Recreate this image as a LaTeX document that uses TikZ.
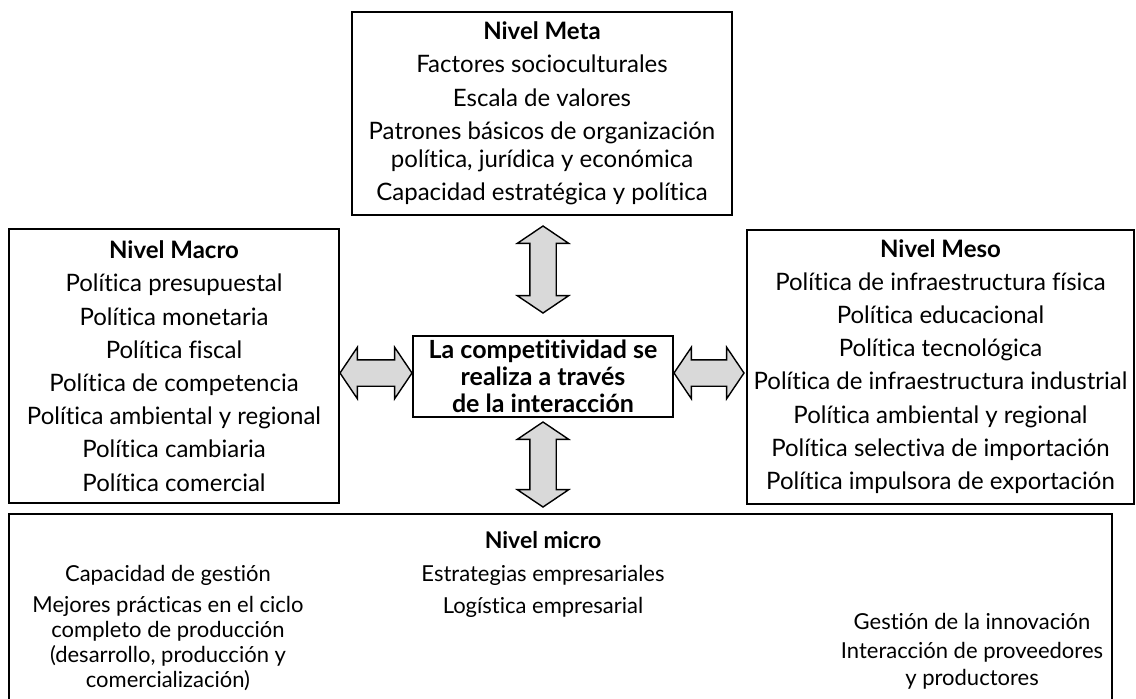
\documentclass[tikz,border=0pt]{standalone}
\usepackage{fontspec}
\setmainfont{Lato}[Ligatures=NoCommon]
\usetikzlibrary{shapes.arrows}

\tikzset{
  nivelbox/.style={draw, line width=1pt, align=center, inner sep=0pt},
  textos/.style={align=center, inner sep=0pt},
  flecha/.style={double arrow, draw, fill=gray!30, line width=0.7pt, inner sep=6.25pt,
    double arrow tip angle=112, double arrow head extend=6.25pt},
}

\begin{document}
\begin{tikzpicture}[x=0.5pt, y=-0.5pt, font=\fontsize{12}{16.6}\selectfont]
  \useasboundingbox (0,0) rectangle (1136,698);

  % niveles
  \node [nivelbox, minimum width=190pt, minimum height=101.5pt] (meta) at (542,113.5)
    {\textbf{Nivel Meta}\\ Factores socioculturales\\ Escala de valores\\
     Patrones básicos de organización\\[-2.5pt] política, jurídica y económica\\
     Capacidad estratégica y política};
  \node [nivelbox, minimum width=165pt, minimum height=137pt] (macro) at (174,366)
    {\textbf{Nivel Macro}\\ Política presupuestal\\ Política monetaria\\ Política fiscal\\
     Política de competencia\\ Política ambiental y regional\\ Política cambiaria\\
     Política comercial};
  \node [nivelbox, minimum width=193.5pt, minimum height=137pt] (meso) at (940.5,366.5)
    {\textbf{Nivel Meso}\\ Política de infraestructura física\\ Política educacional\\
     Política tecnológica\\ Política de infraestructura industrial\\
     Política ambiental y regional\\ Política selectiva de importación\\
     Política impulsora de exportación};
  \node [nivelbox, minimum width=130pt, minimum height=40.5pt,
    font=\fontsize{12.5}{13.6}\selectfont\bfseries] (centro) at (543,376.5)
    {La competitividad se\\ realiza a través\\ de la interacción};
  \node [nivelbox, minimum width=551.5pt, minimum height=103pt] (micro) at (560.5,617) {};

  % nivel micro
  \node [textos, font=\fontsize{11.5}{16}\selectfont\bfseries] (microtit) at (543,540) {Nivel micro};
  \node [textos, font=\fontsize{11}{12.5}\selectfont] (gestion) at (168,628)
    {Capacidad de gestión\\[3pt] Mejores prácticas en el ciclo\\ completo de producción\\
     (desarrollo, producción y\\ comercialización)};
  \node [textos, font=\fontsize{11}{16}\selectfont] (estrategias) at (543,591)
    {Estrategias empresariales\\ Logística empresarial};
  \node [textos, font=\fontsize{11}{13.5}\selectfont] (innovacion) at (972,651)
    {Gestión de la innovación\\[1pt] Interacción de proveedores\\ y productores};

  % flechas
  \node [flecha, minimum height=43.5pt, shape border rotate=90] (fmeta) at (543,269.5) {};
  \node [flecha, minimum height=42.5pt, shape border rotate=90] (fmicro) at (543,464.5) {};
  \node [flecha, minimum height=36pt] (fmacro) at (376,373) {};
  \node [flecha, minimum height=35pt] (fmeso) at (709,373) {};
\end{tikzpicture}
\end{document}
